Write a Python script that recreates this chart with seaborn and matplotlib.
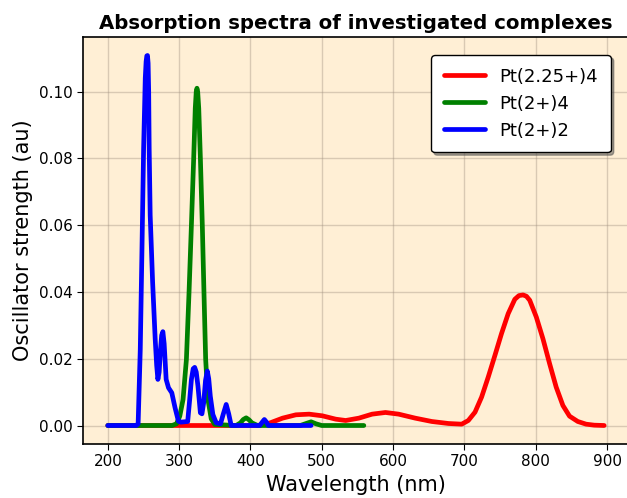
import matplotlib
matplotlib.use("Agg")
import matplotlib.pyplot as plt
import seaborn as sns
import numpy as np

# ---- data ----
red_x = [200, 300, 410, 426.5, 445, 463.7, 482.3, 500.8, 519.5, 533.5, 552, 570.6, 589.3,
         607.8, 631.1, 654.3, 677.6, 696.2, 705.5, 714.9, 724.1, 733.4, 742.8, 752, 761.4,
         770.7, 776.5, 782.3, 787, 791.6, 800.8, 810.1, 819.5, 828.7, 838.1, 847.4, 859,
         870.6, 882, 896]
red_y = [0, 0, 0, 0.0007, 0.0022, 0.0032, 0.0034, 0.0029, 0.0019, 0.0015, 0.0022, 0.0034, 0.0039,
         0.0034, 0.0022, 0.0012, 0.0006, 0.0004, 0.0015, 0.0040, 0.0085, 0.0145, 0.0210, 0.0275, 0.0335,
         0.0378, 0.0389, 0.0391, 0.0387, 0.0375, 0.0325, 0.0260, 0.0185, 0.0115, 0.0060, 0.0028, 0.0012,
         0.0004, 0.0001, 0]

green_x = [200, 290, 296.3, 300.9, 305.5, 310.2, 313.9, 317.2, 320.4, 322.6, 324, 325, 326,
           327.5, 329.8, 332.5, 334.8, 337.2, 340.4, 345, 350, 380, 386, 390, 394, 398, 402,
           410, 470, 478, 485, 492, 500, 559]
green_y = [0, 0, 0.0005, 0.0028, 0.0078, 0.0198, 0.040, 0.060, 0.080, 0.095, 0.100, 0.101, 0.100,
           0.095, 0.080, 0.060, 0.040, 0.0198, 0.0078, 0.0020, 0.0003, 0, 0.0008, 0.0018, 0.0023, 0.0017,
           0.0008, 0, 0, 0.0006, 0.0011, 0.0005, 0, 0]

blue_x = [200, 240, 242.5, 245.5, 247.9, 250.2, 252.5, 253.7, 254.7, 255.6, 256.5, 257.3, 258,
          259.4, 262.8, 266.4, 268.5, 270.2, 272, 273.6, 275.5, 277.2, 279, 281.8, 285.1, 289.7,
          294.3, 299, 302, 312, 314.8, 317.2, 319.7, 321.8, 324, 326.4, 329.8, 332, 334.4, 337,
          339.5, 341.5, 343.7, 347.3, 352, 358, 362, 366, 369.5, 373, 413, 416.5, 419.5, 422.5,
          425, 485]
blue_y = [0, 0, 0.0005, 0.0228, 0.053, 0.083, 0.104, 0.109, 0.1107, 0.1108, 0.1085, 0.100, 0.083,
          0.063, 0.043, 0.026, 0.018, 0.0138, 0.016, 0.022, 0.0270, 0.0281, 0.0245, 0.0138, 0.0113, 0.0098,
          0.0053, 0.0013, 0.0010, 0.0012, 0.0078, 0.0138, 0.0170, 0.0174, 0.0160, 0.0118,
          0.0038, 0.0035, 0.0068, 0.0135, 0.0163, 0.0140, 0.0088, 0.0033, 0.0008, 0.0005, 0.0035, 0.0063, 0.0035, 0,
          0, 0.0010, 0.0018, 0.0010, 0, 0]

series = [
    ("Pt(2.25+)4", red_x, red_y, "red"),
    ("Pt(2+)4", green_x, green_y, "green"),
    ("Pt(2+)2", blue_x, blue_y, "blue"),
]

x_ticks = [200, 300, 400, 500, 600, 700, 800, 900]
y_ticks = [0.00, 0.02, 0.04, 0.06, 0.08, 0.10]

sns.set_style("ticks")
plt.rcParams['font.family'] = ['DejaVu Sans']
plt.rcParams['text.color'] = 'black'
plt.rcParams['axes.labelcolor'] = 'black'
plt.rcParams['xtick.color'] = 'black'
plt.rcParams['ytick.color'] = 'black'

fig = plt.figure(figsize=(6.27, 4.98), dpi=100)
ax = fig.add_axes([83/627, 54/498, 546/627, 407/498])
ax.set_facecolor("papayawhip")

for name, xs, ys, col in series:
    sns.lineplot(x=xs, y=ys, ax=ax, color=col, linewidth=3.4, label=name, sort=False)

ax.set_xticks(x_ticks)
ax.set_yticks(y_ticks)
ax.set_yticklabels([f"{v:.2f}" for v in y_ticks])
ax.tick_params(labelsize=11, direction="out", length=4, color="black", labelcolor="black")
ax.grid(True, color="#a09080", alpha=0.4, linewidth=1)
ax.set_axisbelow(True)
for sp in ax.spines.values():
    sp.set_color("black")
    sp.set_linewidth(1.2)

ax.set_xlabel("Wavelength (nm)", fontsize=15, color="black")
ax.set_ylabel("Oscillator strength (au)", fontsize=15, color="black")
ax.set_title("Absorption spectra of investigated complexes", fontsize=14.25,
             fontweight="bold", pad=6, color="black")

leg = ax.legend(loc="upper right", fontsize=13, shadow=True, framealpha=1,
                edgecolor="black", fancybox=True, borderaxespad=1.0, borderpad=0.7,
                handlelength=2.3)
leg.get_frame().set_linewidth(1.0)
for t in leg.get_texts():
    t.set_color("black")
for line in leg.get_lines():
    line.set_linewidth(3.4)

fig.savefig("out.png", dpi=100)
